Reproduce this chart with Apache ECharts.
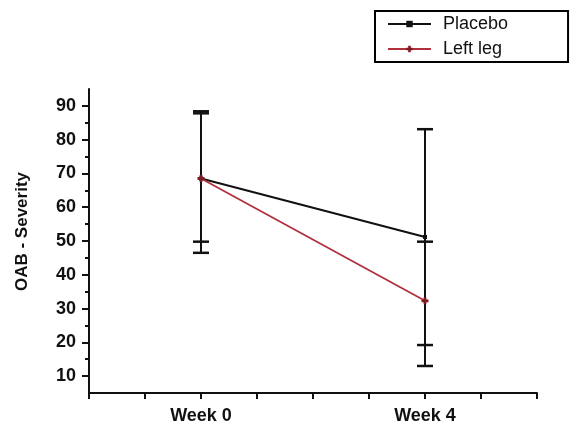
<!DOCTYPE html>
<html>
<head>
<meta charset="utf-8">
<style>
  html, body { margin: 0; padding: 0; background: #fff; }
  #chart { width: 570px; height: 430px; }
</style>
<script src="https://cdn.jsdelivr.net/npm/echarts@6/dist/echarts.min.js"></script>
</head>
<body>
<div id="chart"></div>
<script>
// data
var weeks = [0, 4];
var weekLabels = ['Week 0', 'Week 4'];
var placebo = [68.5, 51.2];
var leftLeg = [68.5, 32.3];
var placeboLow = [49.8, 19.2];
var placeboHigh = [87.8, 83.1];
var leftLegLow = [46.5, 13.0];
var leftLegHigh = [88.4, 49.8];
var yLabels = [10, 20, 30, 40, 50, 60, 70, 80, 90];
var yMinor = [15, 25, 35, 45, 55, 65, 75, 85];

var font = '"Liberation Sans", Arial, sans-serif';

function pairs(ys) {
    return weeks.map(function (w, i) { return [w, ys[i]]; });
}

var errData = [];
weeks.forEach(function (w, i) {
    errData.push([w, placeboLow[i], placeboHigh[i]]);
    errData.push([w, leftLegLow[i], leftLegHigh[i]]);
});

// vertical bar with caps at both ends
function renderErr(params, api) {
    var lo = api.coord([api.value(0), api.value(1)]);
    var hi = api.coord([api.value(0), api.value(2)]);
    var w = 8;
    var cap = { stroke: '#111', lineWidth: 2.5 };
    return {
        type: 'group',
        children: [
            { type: 'line', shape: { x1: lo[0], y1: lo[1], x2: hi[0], y2: hi[1] }, style: { stroke: '#111', lineWidth: 2 } },
            { type: 'line', shape: { x1: lo[0] - w, y1: lo[1], x2: lo[0] + w, y2: lo[1] }, style: cap },
            { type: 'line', shape: { x1: hi[0] - w, y1: hi[1], x2: hi[0] + w, y2: hi[1] }, style: cap }
        ]
    };
}

var plusPath = 'path://M3,0H7V3H10V7H7V10H3V7H0V3H3Z';

var option = {
    backgroundColor: '#fff',
    animation: false,
    grid: { left: 89, right: 33, top: 89, bottom: 37 },
    legend: {
        data: ['Placebo', 'Left leg'],
        orient: 'vertical',
        left: 375,
        top: 11,
        itemWidth: 43,
        itemHeight: 8,
        itemGap: 7,
        padding: [4, 60, 4, 12],
        borderColor: '#000',
        borderWidth: 2,
        textStyle: { fontFamily: font, fontSize: 18, color: '#111', padding: [0, 0, 0, 7] }
    },
    xAxis: {
        type: 'value',
        min: -2,
        max: 6,
        interval: 1,
        splitLine: { show: false },
        axisLine: { onZero: false, lineStyle: { color: '#111', width: 2 } },
        axisTick: { length: 6, lineStyle: { color: '#111', width: 2 } },
        axisLabel: {
            customValues: weeks,
            formatter: function (v) { return weekLabels[weeks.indexOf(v)] || ''; },
            margin: 14,
            fontFamily: font,
            fontSize: 18,
            fontWeight: 'bold',
            color: '#111'
        }
    },
    yAxis: [{
        type: 'value',
        min: 5,
        max: 95,
        name: 'OAB - Severity',
        nameLocation: 'middle',
        nameGap: 58,
        nameTextStyle: { fontFamily: font, fontSize: 17, fontWeight: 'bold', color: '#111', padding: [0, 0, 0, 19] },
        splitLine: { show: false },
        axisLine: { show: true, onZero: false, lineStyle: { color: '#111', width: 2 } },
        axisTick: { customValues: yLabels, length: 7, lineStyle: { color: '#111', width: 2 } },
        axisLabel: { customValues: yLabels, margin: 13, fontFamily: font, fontSize: 18, fontWeight: 'bold', color: '#111' }
    }, {
        // minor ticks only
        type: 'value',
        position: 'left',
        min: 5,
        max: 95,
        splitLine: { show: false },
        axisLine: { show: false, onZero: false },
        axisTick: { customValues: yMinor, length: 4, lineStyle: { color: '#111', width: 2 } },
        axisLabel: { show: false }
    }],
    series: [{
        type: 'custom',
        name: 'err',
        renderItem: renderErr,
        data: errData,
        encode: { x: 0, y: [1, 2] },
        z: 2
    }, {
        name: 'Placebo',
        type: 'line',
        data: pairs(placebo),
        symbol: 'rect',
        symbolSize: 4,
        color: '#111',
        lineStyle: { color: '#111', width: 2 },
        z: 3
    }, {
        name: 'Left leg',
        type: 'line',
        data: pairs(leftLeg),
        symbol: plusPath,
        symbolSize: 7,
        color: '#7d1a24',
        lineStyle: { color: '#b0303e', width: 1.8 },
        z: 4
    }]
};

var chart = echarts.init(document.getElementById('chart'));
chart.setOption(option);
</script>
</body>
</html>
